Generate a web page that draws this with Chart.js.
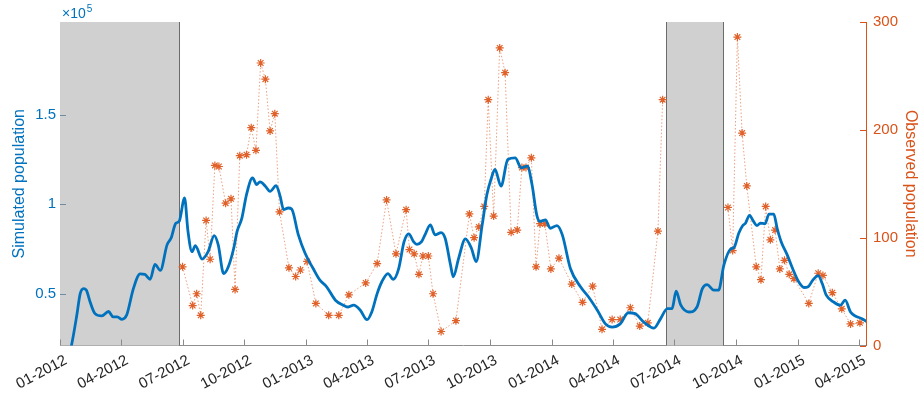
<!DOCTYPE html>
<html>
<head>
<meta charset="utf-8">
<script src="https://cdn.jsdelivr.net/npm/chart.js@4/dist/chart.umd.min.js"></script>
<style>
  html, body { margin: 0; padding: 0; background: #fff; }
  #wrap { width: 920px; height: 394px; }
</style>
</head>
<body>
<div id="wrap"><canvas id="c" width="920" height="394"></canvas></div>
<script>
// Quarterly date ticks (MM-YYYY)
const tickLabels = ['01-2012','04-2012','07-2012','10-2012','01-2013','04-2013','07-2013',
                    '10-2013','01-2014','04-2014','07-2014','10-2014','01-2015','04-2015'];

// Simulated population, day = days since 1 Jan 2012
const simDay = [9,17,25,30,35,39,45,52,62,72,79,85,92,99,109,119,126,134,141,149,159,165,172,177,
  185,190,196,201,211,220,229,235,243,250,258,263,270,277,286,292,297,305,312,321,327,332,339,344,
  354,364,376,386,396,409,421,428,436,446,456,463,471,478,487,495,503,511,518,525,530,537,542,550,
  557,566,572,580,584,592,602,611,618,627,634,640,646,655,665,676,685,694,701,708,713,721,728,738,
  746,758,773,785,798,810,820,832,844,854,867,882,892,902,909,915,922,934,946,954,961,971,978,986,
  996,1001,1008,1014,1018,1024,1030,1035,1040,1047,1053,1060,1065,1071,1080,1088,1097,1105,1111,
  1118,1126,1132,1138,1149,1159,1166,1174,1181,1191,1199];
const simPop = [10000,21000,38000,50000,52800,52000,45000,38800,37500,40000,37000,37000,35600,38000,
  52800,61000,60700,58000,66300,63000,77200,81000,89300,90300,103400,85000,73400,76800,69300,73400,
  82400,77200,61200,65000,75300,84700,92000,105300,114600,110900,112400,110000,107100,110300,104300,
  96900,97800,97200,82800,72500,64000,57500,53800,46300,43500,42500,43500,40700,35400,39700,50000,
  56600,61200,58000,64000,79000,83400,79000,77500,79000,82800,88400,82800,84100,80900,66000,59400,
  69700,80600,75300,67800,88400,105300,113700,119300,110000,124900,125800,120200,121200,110900,
  94000,90300,91200,86500,88000,82800,64000,53800,48100,40700,33100,31300,33100,39300,38800,34100,
  30700,36000,41600,41600,51300,43500,39700,42500,52800,55000,51900,51900,66000,74900,75700,83700,
  88000,89300,93700,90300,88000,89300,89000,94400,94400,86500,79000,71600,64000,56600,53400,53800,
  57500,60000,55600,49100,45300,43500,46300,39700,37500,36000,34100];

// Observed population (field counts), day = days since 1 Jan 2012
const obsDay = [182,197,203,209,217,223,230,236,246,254,260,267,277,284,291,298,305,312,319,326,
  340,350,357,367,380,399,414,429,454,471,485,499,514,519,526,533,539,547,554,566,588,608,615,622,
  630,636,644,653,661,670,679,686,692,700,707,713,720,729,741,760,776,791,805,820,832,847,861,873,
  888,895,992,999,1006,1013,1020,1034,1041,1048,1055,1062,1069,1076,1083,1090,1112,1126,1133,1147,
  1161,1174,1188];
const obsPop = [73,37,48,28,116,80,167,166,132,136,52,176,177,202,181,262,247,199,215,124,
  72,64,70,78,39,28,28,47,58,76,135,85,126,89,85,66,83,83,48,13,23,122,100,110,
  129,228,120,276,253,105,107,165,165,174,73,113,113,71,81,57,40,55,15,24,24,35,18,21,
  106,228,128,88,286,197,148,73,61,129,98,107,71,79,66,62,39,67,65,49,
  34,20,21];

// Periods without observations (shaded), days since 1 Jan 2012
const shadeFrom = [0, 900];
const shadeTo   = [177, 985];

const leftTicks  = [50000, 100000, 150000];
const rightTicks = [0, 100, 200, 300];

const BLUE = '#0072BD';
const ORANGE = '#D95319';
const FONT = "'Liberation Sans', Arial, Helvetica, sans-serif";

const DAY0 = Date.UTC(2012, 0, 1);
const dayOf = lbl => {
  const [m, y] = lbl.split('-').map(Number);
  return Math.round((Date.UTC(y, m - 1, 1) - DAY0) / 86400000);
};
const tickDays = tickLabels.map(dayOf);

const simData = simDay.map((d, i) => ({ x: d, y: simPop[i] }));
const obsData = obsDay.map((d, i) => ({ x: d, y: obsPop[i] }));

const decor = {
  id: 'decor',
  beforeDatasetsDraw(chart) {
    const { ctx, chartArea: a, scales: { x } } = chart;
    ctx.save();
    shadeFrom.forEach((f, i) => {
      const x0 = Math.max(a.left, x.getPixelForValue(f));
      const x1 = Math.min(a.right, x.getPixelForValue(shadeTo[i]));
      ctx.fillStyle = '#d0d0d0';
      ctx.fillRect(x0, a.top, x1 - x0, a.bottom - a.top);
      ctx.strokeStyle = '#6b6b6b';
      ctx.lineWidth = 1;
      ctx.beginPath();
      [x0, x1].forEach(px => {
        if (px > a.left + 1) {
          const p = Math.round(px) + 0.5;
          ctx.moveTo(p, a.top);
          ctx.lineTo(p, a.bottom);
        }
      });
      ctx.stroke();
    });
    ctx.restore();
  },
  afterDraw(chart) {
    const { ctx, chartArea: a, scales: { x, y, y2 } } = chart;
    const L = 6;
    ctx.save();
    ctx.lineWidth = 1;
    // inward tick marks
    ctx.strokeStyle = '#8a8a8a';
    ctx.beginPath();
    x.ticks.forEach(t => {
      const p = Math.round(x.getPixelForValue(t.value)) + 0.5;
      ctx.moveTo(p, a.bottom);
      ctx.lineTo(p, a.bottom - L);
    });
    ctx.stroke();
    ctx.strokeStyle = '#6f8aa3';
    ctx.beginPath();
    y.ticks.forEach(t => {
      const p = Math.round(y.getPixelForValue(t.value)) + 0.5;
      ctx.moveTo(a.left, p);
      ctx.lineTo(a.left + L, p);
    });
    ctx.stroke();
    ctx.strokeStyle = ORANGE;
    ctx.beginPath();
    y2.ticks.forEach(t => {
      const p = Math.round(y2.getPixelForValue(t.value)) + 0.5;
      ctx.moveTo(a.right, p);
      ctx.lineTo(a.right - L, p);
    });
    ctx.stroke();
    // axis exponent
    ctx.fillStyle = BLUE;
    ctx.textBaseline = 'alphabetic';
    ctx.textAlign = 'left';
    ctx.font = `14px ${FONT}`;
    const t1 = '\u00d710';
    ctx.fillText(t1, a.left + 2, a.top - 4);
    const w = ctx.measureText(t1).width;
    ctx.font = `10px ${FONT}`;
    ctx.fillText('5', a.left + 2 + w + 1, a.top - 10);
    ctx.restore();
  }
};

new Chart(document.getElementById('c'), {
  type: 'line',
  data: {
    datasets: [
      {
        label: 'Simulated population',
        data: simData,
        yAxisID: 'y',
        borderColor: BLUE,
        borderWidth: 2.8,
        pointRadius: 0,
        cubicInterpolationMode: 'monotone',
        fill: false,
        clip: 0,
        order: 0
      },
      {
        label: 'Observed population',
        data: obsData,
        yAxisID: 'y2',
        borderColor: 'rgba(217,83,25,0.55)',
        borderWidth: 1,
        borderDash: [1.5, 2],
        pointStyle: 'star',
        pointRadius: 4,
        pointBorderWidth: 1.2,
        pointBorderColor: '#E0622A',
        pointBackgroundColor: '#E0622A',
        tension: 0,
        fill: false,
        clip: 6,
        order: 1,
        segment: {
          borderColor: c => (c.p1.parsed.x - c.p0.parsed.x > 60 ? 'rgba(0,0,0,0)' : undefined)
        }
      }
    ]
  },
  options: {
    responsive: false,
    animation: false,
    devicePixelRatio: 1,
    layout: { padding: { top: 22, left: 0, right: 0, bottom: 0 } },
    plugins: { legend: { display: false }, tooltip: { enabled: false } },
    scales: {
      x: {
        type: 'linear',
        min: 0,
        max: 1197,
        afterBuildTicks: s => { s.ticks = tickDays.map(v => ({ value: v })); },
        afterFit: s => { s.height = 48.5; },
        grid: { display: false, drawTicks: false },
        border: { display: true, color: '#8f8f8f', width: 1 },
        ticks: {
          autoSkip: false,
          minRotation: 28,
          maxRotation: 28,
          padding: 6,
          labelOffset: 6,
          color: '#262626',
          font: { family: FONT, size: 15 },
          callback: (v, i) => tickLabels[i]
        }
      },
      y: {
        position: 'left',
        min: 21000,
        max: 201700,
        afterBuildTicks: s => { s.ticks = leftTicks.map(v => ({ value: v })); },
        afterFit: s => { s.width = 60; },
        grid: { display: false, drawTicks: false },
        border: { display: true, color: '#6f8aa3', width: 1 },
        ticks: {
          padding: 4,
          color: BLUE,
          font: { family: FONT, size: 15 },
          callback: v => String(v / 1e5)
        },
        title: {
          display: true,
          text: 'Simulated population',
          color: BLUE,
          font: { family: FONT, size: 16 },
          padding: { top: 10, bottom: 0 }
        }
      },
      y2: {
        position: 'right',
        min: 0,
        max: 300,
        afterBuildTicks: s => { s.ticks = rightTicks.map(v => ({ value: v })); },
        afterFit: s => { s.width = 54; },
        grid: { display: false, drawTicks: false },
        border: { display: true, color: ORANGE, width: 1 },
        ticks: {
          padding: 7,
          color: ORANGE,
          font: { family: FONT, size: 15 }
        },
        title: {
          display: true,
          text: 'Observed population',
          color: ORANGE,
          font: { family: FONT, size: 16 },
          padding: { top: 0, bottom: 0 }
        }
      }
    }
  },
  plugins: [decor]
});
</script>
</body>
</html>
